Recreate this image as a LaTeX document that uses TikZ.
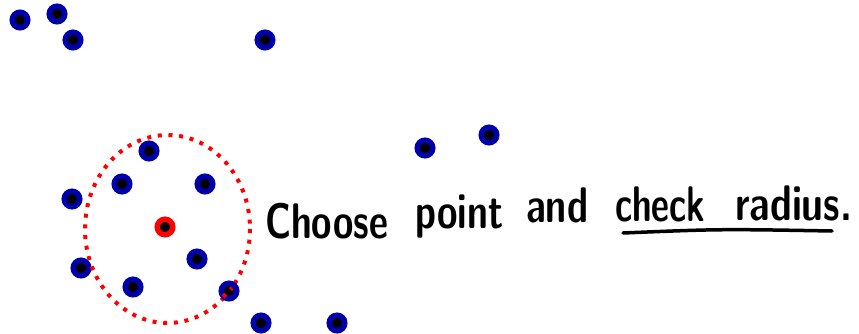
\documentclass[tikz,border=0pt]{standalone}
\usepackage{graphicx}
\definecolor{ptblue}{HTML}{0000AA}
\newcommand{\hword}[2]{\resizebox{#1}{\height}{\fontsize{50}{60}\selectfont\sffamily\bfseries #2}}

\begin{document}
\begin{tikzpicture}[
  x=1pt, y=-1pt,
  pt/.style={circle, draw=ptblue, fill=black, line width=5.5pt, minimum size=15.5pt, inner sep=0pt},
  chosen/.style={pt, draw=red},
  reach/.style={red, line width=4pt, dash pattern=on 4pt off 6.7pt},
  word/.style={anchor=base west, inner sep=0pt},
]
  \useasboundingbox (0,0) rectangle (859,334);
  % the points
  \foreach \n/\x/\y in {a/20/20, b/57/14, c/73/40, d/265/40,
                        e/149/151, f/72/199, g/122/184, h/205/184,
                        i/197/259, j/81/268, k/133/287, l/261/323,
                        m/337/323, n/425/148, o/489/135}
    \node[pt] (\n) at (\x,\y) {};
  \node[chosen] (sel) at (165,227) {};
  \draw[reach] (sel) ++(2.5,2) ellipse [x radius=82.5, y radius=94];
  % point on the border, drawn over the circle
  \node[pt] (q) at (229,291) {};
  \draw[reach] (q.center) ++(-6,6) -- ++(9,-9);
  % label
  \node[word] (choose) at (265,238) {\hword{123pt}{Choose}};
  \node[word] (point) at (415,228) {\hword{88pt}{point}};
  \node[word] (and) at (526,222) {\hword{62pt}{and}};
  \node[word] (check) at (615,221) {\hword{90pt}{check}};
  \node[word] (radius) at (735,220) {\hword{117pt}{radius.}};
  \coordinate (ul1) at (623,233);
  \coordinate (ul2) at (832,231);
  \draw[line width=3.5pt, line cap=round] (ul1) .. controls (720,229) .. (ul2);
\end{tikzpicture}
\end{document}
